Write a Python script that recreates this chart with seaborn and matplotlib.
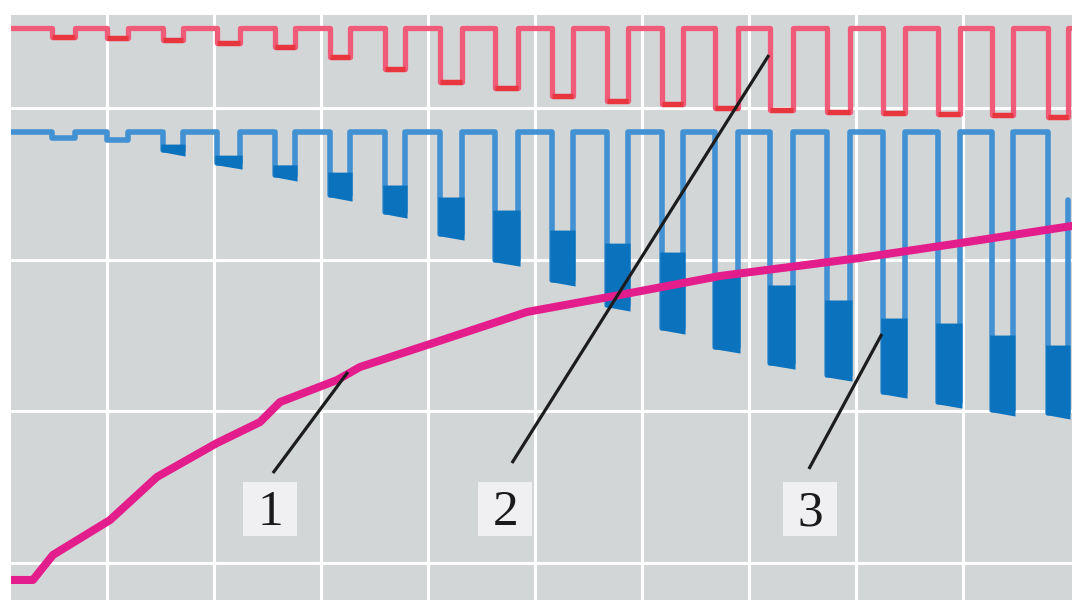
import numpy as np
import pandas as pd
import matplotlib
matplotlib.use("Agg")
import matplotlib.pyplot as plt
import seaborn as sns
from matplotlib.patches import Rectangle

# ---------------- data ----------------
# curve 1 (magenta, smooth rising)
magenta_t = [0.103, 0.308, 0.495, 1.028, 1.467, 2.028, 2.430, 2.617, 3.150, 3.364,
             4.047, 4.925, 5.794, 6.729, 8.037, 8.972, 10.019]
magenta_v = [-0.112, -0.112, 0.053, 0.283, 0.567, 0.791, 0.929, 1.061, 1.206, 1.292,
             1.450, 1.655, 1.767, 1.892, 2.011, 2.109, 2.222]

# square-wave stimulus: start / end of every low phase
dip_start = [0.486, 1.000, 1.523, 2.028, 2.570, 3.084, 3.598, 4.112, 4.626, 5.159,
             5.673, 6.187, 6.682, 7.196, 7.729, 8.252, 8.766, 9.271, 9.794]
dip_end = [0.701, 1.196, 1.710, 2.243, 2.757, 3.271, 3.785, 4.318, 4.841, 5.355,
           5.869, 6.383, 6.897, 7.411, 7.944, 8.458, 8.972, 9.467, 9.981]

# curve 2 (red)
red_high = 3.527
red_low = [3.467, 3.461, 3.448, 3.428, 3.401, 3.336, 3.256, 3.171, 3.131, 3.080,
           3.046, 3.026, 3.000, 2.987, 2.974, 2.967, 2.960, 2.954, 2.941]

# curve 3 (blue)
blue_high = 2.841
blue_low = [2.802, 2.789, 2.723, 2.637, 2.558, 2.426, 2.314, 2.169, 1.997, 1.866,
            1.701, 1.549, 1.424, 1.318, 1.239, 1.127, 1.061, 1.009, 0.989]
blue_dense_top = [2.802, 2.789, 2.762, 2.689, 2.625, 2.577, 2.492, 2.413, 2.327, 2.195,
                  2.109, 2.050, 1.898, 1.833, 1.734, 1.615, 1.582, 1.503, 1.437]
blue_end_level = 2.39

t_start, t_end = 0.103, 10.02

# labels
label_text = ["1", "2", "3"]
label_x = [2.523, 4.724, 7.575]
label_y = [0.356, 0.356, 0.356]
leader_from = [(2.551, 0.593), (4.785, 0.659), (7.561, 0.620)]
leader_to = [(3.252, 1.259), (7.187, 3.349), (8.243, 1.510)]

# ---------------- build step paths ----------------
def square_path(high, lows, end_level):
    xs, ys = [t_start], [high]
    for s, e, lo in zip(dip_start, dip_end, lows):
        xs += [s, s, e, e]
        ys += [high, lo, lo, high]
    if end_level is None:
        xs.append(t_end); ys.append(high)
    else:
        ys[-1] = end_level
    return pd.DataFrame({"t": xs, "v": ys})

red_df = square_path(red_high, red_low, None)
blue_df = square_path(blue_high, blue_low, blue_end_level)
mag_df = pd.DataFrame({"t": magenta_t, "v": magenta_v})

# ---------------- plot ----------------
sns.set_style("darkgrid", {"axes.facecolor": "#d3d6d7", "grid.color": "white"})
fig = plt.figure(figsize=(10.84, 6.16), dpi=100)
fig.patch.set_facecolor("white")
ax = fig.add_axes([11 / 1084, 1 - 600 / 616, 1061 / 1084, 585 / 616])

sns.lineplot(data=blue_df, x="t", y="v", sort=False, estimator=None, ax=ax,
             color="#4291d2", lw=4.0, zorder=3)
# blue dense blocks at the bottom of every dip
for s, e, lo, top in zip(dip_start, dip_end, blue_low, blue_dense_top):
    if top - lo > 0.01:
        ax.fill_between([s - 0.02, e + 0.02], [lo - 0.01, lo - 0.04], [top, top],
                        color="#0b73bd", lw=0, zorder=3.5)

sns.lineplot(data=red_df, x="t", y="v", sort=False, estimator=None, ax=ax,
             color="#ef5b78", lw=3.8, zorder=3)
for s, e, lo in zip(dip_start, dip_end, red_low):
    ax.plot([s, e], [lo, lo], color="#e8363f", lw=3.8, solid_capstyle="butt", zorder=3)
sns.lineplot(data=mag_df, x="t", y="v", sort=False, estimator=None, ax=ax,
             color="#e31e8c", lw=5.8, zorder=4)

# leader lines and label boxes
for (x0, y0), (x1, y1) in zip(leader_from, leader_to):
    ax.plot([x0, x1], [y0, y1], color="#1c1c1c", lw=2.3, zorder=5,
            solid_capstyle="butt")
bw, bh = 0.505, 0.356
for txt, x, y in zip(label_text, label_x, label_y):
    ax.add_patch(Rectangle((x - bw / 2, y - bh / 2), bw, bh, facecolor="#f0f0f2",
                           edgecolor="none", zorder=6))
    ax.text(x, y - 0.106, txt, ha="center", va="baseline", fontsize=37,
            family="Liberation Serif", color="#1a1a1a", zorder=7)

ax.set_xlim(t_start, t_end)
ax.set_ylim(-0.244, 3.613)
ax.set_xticks(range(1, 10))
ax.set_yticks([0, 1, 2, 3])
ax.grid(True, color="white", lw=2.2)
ax.set_axisbelow(True)
ax.tick_params(length=0, labelbottom=False, labelleft=False)
ax.set_xlabel("")
ax.set_ylabel("")
for sp in ax.spines.values():
    sp.set_visible(False)
if ax.get_legend():
    ax.get_legend().remove()

fig.savefig("out.png", dpi=100, facecolor="white")
